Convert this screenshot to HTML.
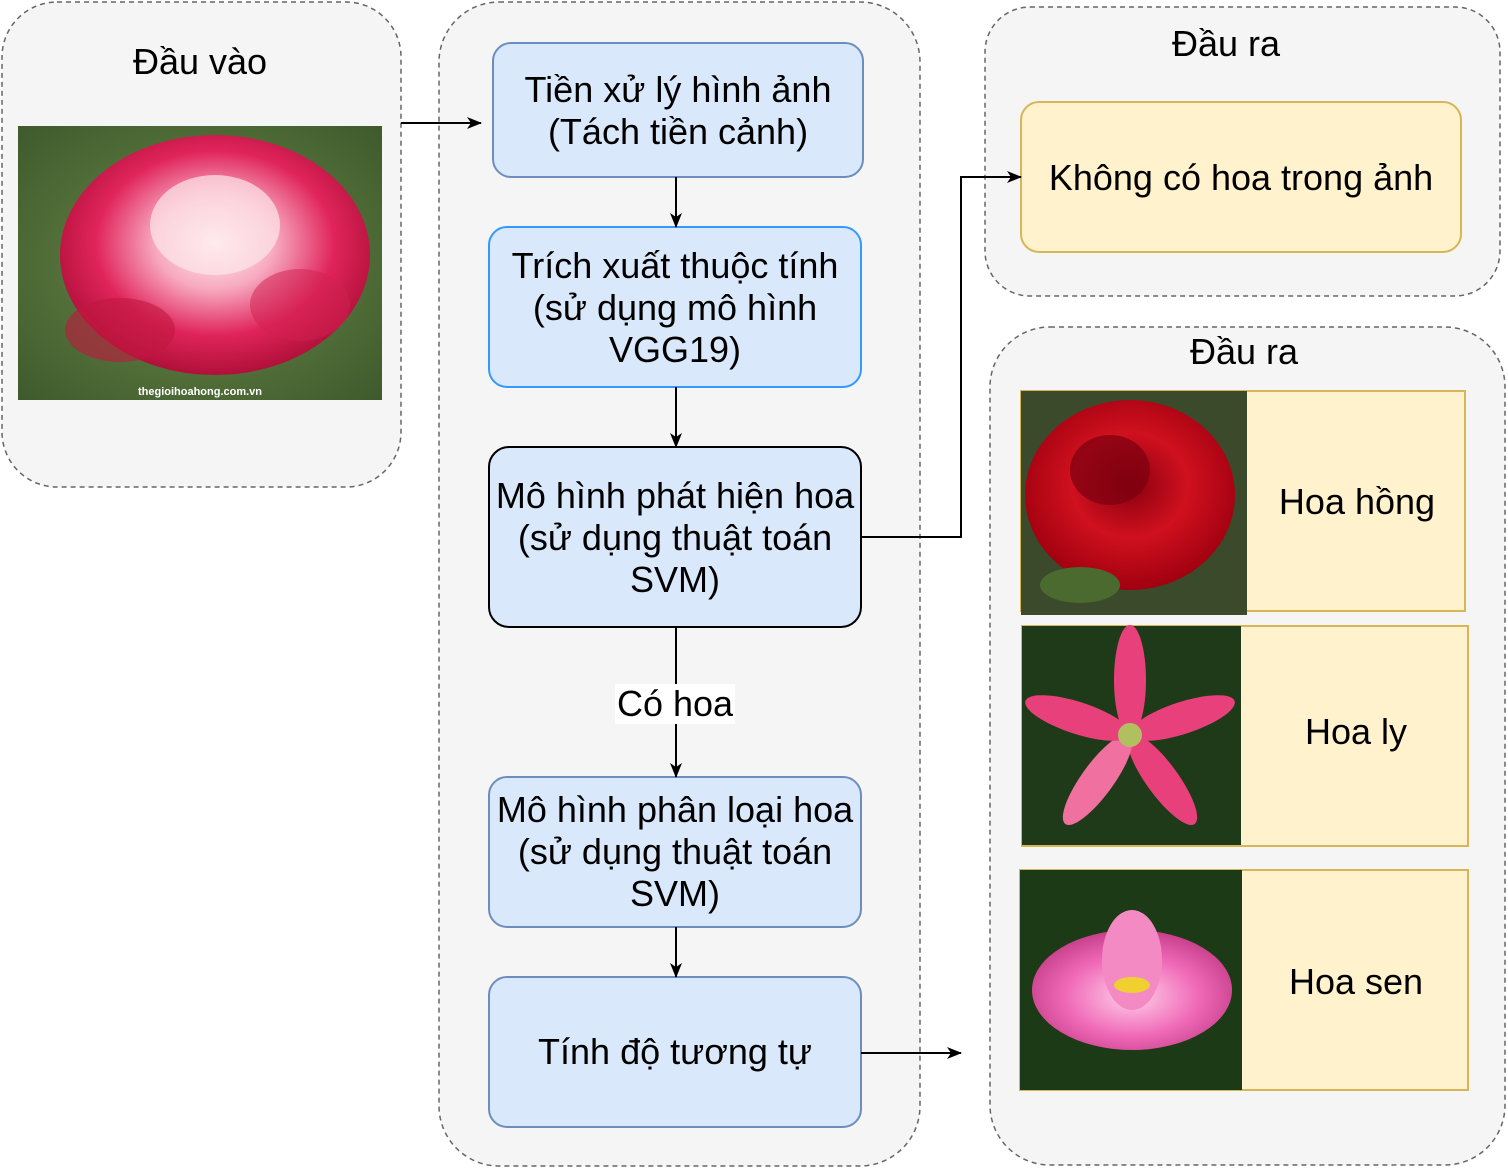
<!DOCTYPE html>
<html><head><meta charset="utf-8"><style>
html,body{margin:0;padding:0;background:#fff;}
svg{display:block;font-family:"Liberation Sans","Noto Sans CJK SC",sans-serif;}
text{font-size:36px;fill:#000;text-anchor:middle;}
</style></head><body>
<svg width="1508" height="1168" viewBox="0 0 1508 1168">
<defs>
<marker id="ah" markerWidth="16" markerHeight="16" refX="14" refY="8" orient="auto" markerUnits="userSpaceOnUse">
<path d="M0,2 L15,8 L0,14 L4,8 Z" fill="#000"/></marker>
<radialGradient id="bgRose1" cx="50%" cy="50%" r="70%"><stop offset="0" stop-color="#6a8a4a"/><stop offset="1" stop-color="#3f5a2c"/></radialGradient>
<radialGradient id="pinkRose" cx="50%" cy="45%" r="55%"><stop offset="0" stop-color="#fff4f2"/><stop offset="0.35" stop-color="#f7a9c0"/><stop offset="0.7" stop-color="#e0245a"/><stop offset="1" stop-color="#b0103a"/></radialGradient>
<radialGradient id="redRose" cx="50%" cy="45%" r="55%"><stop offset="0" stop-color="#8a0010"/><stop offset="0.5" stop-color="#d0101e"/><stop offset="1" stop-color="#a00010"/></radialGradient>
<radialGradient id="lotus" cx="50%" cy="55%" r="55%"><stop offset="0" stop-color="#ffd0ea"/><stop offset="0.6" stop-color="#f06ab8"/><stop offset="1" stop-color="#c8408c"/></radialGradient>
</defs>

<g>
<rect x="2" y="2" width="399" height="485" rx="55" fill="#f5f5f5" stroke="#666" stroke-width="1.5" stroke-dasharray="5,4"/>
<text x="200" y="74">Đầu vào</text>
<g>
<rect x="18" y="126" width="364" height="274" fill="url(#bgRose1)"/>
<ellipse cx="215" cy="255" rx="155" ry="120" fill="url(#pinkRose)"/>
<ellipse cx="215" cy="225" rx="65" ry="50" fill="#fde6ea" opacity="0.7"/>
<ellipse cx="120" cy="330" rx="55" ry="32" fill="#c01840" opacity="0.6"/>
<ellipse cx="300" cy="305" rx="50" ry="36" fill="#d02050" opacity="0.5"/>
<text x="200" y="395" style="font-size:11px;fill:#fff;font-weight:bold">thegioihoahong.com.vn</text>
</g>
</g>

<rect x="439" y="2" width="481" height="1164" rx="60" fill="#f5f5f5" stroke="#666" stroke-width="1.5" stroke-dasharray="5,4"/>

<g>
<rect x="493" y="43" width="370" height="134" rx="18" fill="#dae8fc" stroke="#6c8ebf" stroke-width="2"/>
<text x="678" y="102">Tiền xử lý hình ảnh</text>
<text x="678" y="144">(Tách tiền cảnh)</text></g>

<g>
<rect x="489" y="227" width="372" height="160" rx="18" fill="#dae8fc" stroke="#3399ff" stroke-width="2"/>
<text x="675" y="278">Trích xuất thuộc tính</text>
<text x="675" y="320">(sử dụng mô hình</text>
<text x="675" y="362">VGG19)</text></g>

<g>
<rect x="489" y="447" width="372" height="180" rx="20" fill="#dae8fc" stroke="#000" stroke-width="2"/>
<text x="675" y="508">Mô hình phát hiện hoa</text>
<text x="675" y="550">(sử dụng thuật toán</text>
<text x="675" y="592">SVM)</text></g>

<g>
<rect x="489" y="777" width="372" height="150" rx="18" fill="#dae8fc" stroke="#6c8ebf" stroke-width="2"/>
<text x="675" y="822">Mô hình phân loại hoa</text>
<text x="675" y="864">(sử dụng thuật toán</text>
<text x="675" y="906">SVM)</text></g>

<g>
<rect x="489" y="977" width="372" height="150" rx="18" fill="#dae8fc" stroke="#6c8ebf" stroke-width="2"/>
<text x="675" y="1064">Tính độ tương tự</text></g>

<g>
<rect x="985" y="7" width="515" height="289" rx="45" fill="#f5f5f5" stroke="#666" stroke-width="1.5" stroke-dasharray="5,4"/>
<text x="1226" y="56">Đầu ra</text>
<rect x="1021" y="102" width="440" height="150" rx="18" fill="#fff2cc" stroke="#d6b656" stroke-width="2"/>
<text x="1241" y="190">Không có hoa trong ảnh</text>
</g>

<g>
<rect x="990" y="327" width="515" height="838" rx="60" fill="#f5f5f5" stroke="#666" stroke-width="1.5" stroke-dasharray="5,4"/>
<text x="1244" y="364">Đầu ra</text>

<g>
<rect x="1021" y="391" width="444" height="220" fill="#fff2cc" stroke="#d6b656" stroke-width="2"/>
<rect x="1021" y="391" width="226" height="224" fill="#3a4a2a"/>
<ellipse cx="1130" cy="495" rx="105" ry="95" fill="url(#redRose)"/>
<ellipse cx="1110" cy="470" rx="40" ry="35" fill="#7a0010" opacity="0.7"/>
<ellipse cx="1080" cy="585" rx="40" ry="18" fill="#4a6a30"/>
<text x="1357" y="514">Hoa hồng</text></g>

<g>
<rect x="1022" y="626" width="446" height="220" fill="#fff2cc" stroke="#d6b656" stroke-width="2"/>
<rect x="1022" y="626" width="219" height="219" fill="#1f3a18"/>
<g transform="translate(1130,735)">
<ellipse cx="0" cy="-55" rx="16" ry="55" fill="#e8407a"/>
<ellipse cx="0" cy="-55" rx="16" ry="55" fill="#e8407a" transform="rotate(72)"/>
<ellipse cx="0" cy="-55" rx="16" ry="55" fill="#e8407a" transform="rotate(144)"/>
<ellipse cx="0" cy="-55" rx="16" ry="55" fill="#f070a0" transform="rotate(216)"/>
<ellipse cx="0" cy="-55" rx="16" ry="55" fill="#e8407a" transform="rotate(288)"/>
<circle r="12" fill="#b0c060"/></g>
<text x="1356" y="744">Hoa ly</text></g>

<g>
<rect x="1020" y="870" width="448" height="220" fill="#fff2cc" stroke="#d6b656" stroke-width="2"/>
<rect x="1020" y="870" width="222" height="220" fill="#1c3a16"/>
<ellipse cx="1132" cy="990" rx="100" ry="60" fill="url(#lotus)"/>
<ellipse cx="1132" cy="960" rx="30" ry="50" fill="#f48ac4"/>
<ellipse cx="1132" cy="985" rx="18" ry="8" fill="#f0d030"/>
<text x="1356" y="994">Hoa sen</text></g>
</g>

<g stroke="#000" stroke-width="2" fill="none">
<path d="M401,123 L481,123" marker-end="url(#ah)"/>
<path d="M676,177 L676,227" marker-end="url(#ah)"/>
<path d="M676,387 L676,447" marker-end="url(#ah)"/>
<path d="M676,627 L676,777" marker-end="url(#ah)"/>
<path d="M676,927 L676,977" marker-end="url(#ah)"/>
<path d="M861,537 L961,537 L961,177 L1021,177" marker-end="url(#ah)"/>
<path d="M861,1053 L961,1053" marker-end="url(#ah)"/>
</g>
<rect x="615" y="684" width="120" height="40" fill="#fff"/>
<text x="675" y="716">Có hoa</text>
</svg>
</body></html>
